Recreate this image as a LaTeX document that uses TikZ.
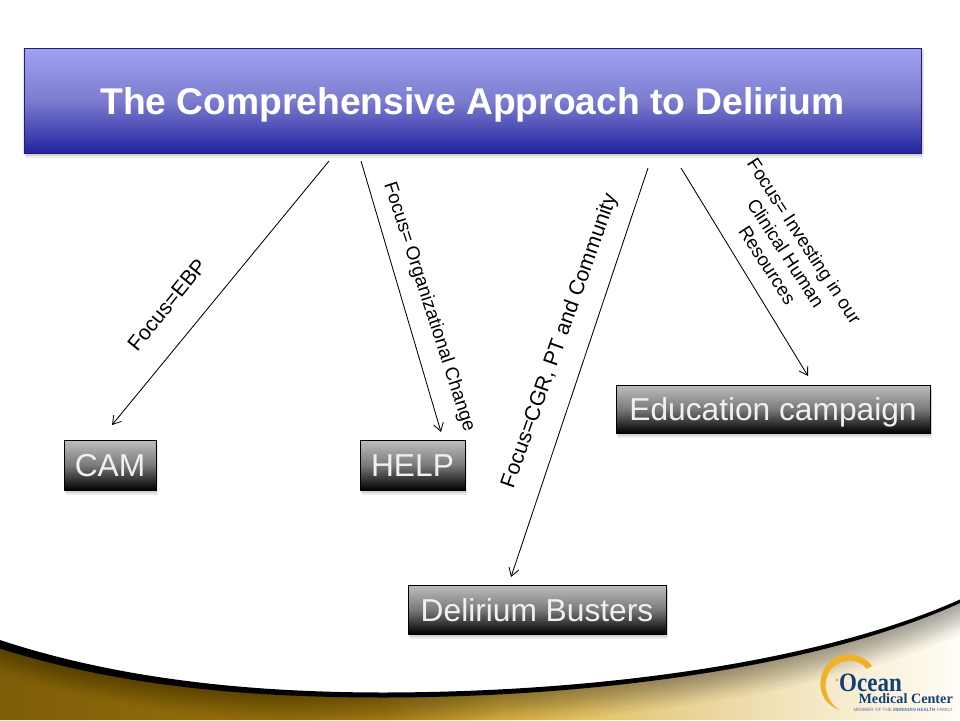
\documentclass[tikz,border=0pt]{standalone}
\usepackage{fontspec}
\setmainfont{Liberation Sans}
\newfontfamily\logofont{Liberation Serif}
\usetikzlibrary{shadows,arrows.meta,positioning}
\definecolor{swA}{HTML}{7E5E08}
\definecolor{swB}{HTML}{96700E}
\definecolor{swC}{HTML}{AC8414}
\definecolor{swD}{HTML}{D6B040}
\definecolor{swE}{HTML}{E2C060}
\definecolor{swF}{HTML}{E8D090}
\definecolor{swG}{HTML}{F4E8C6}
\definecolor{swH}{HTML}{FFFDF6}
\pgfdeclarehorizontalshading{swooshfill}{100bp}{
 color(0bp)=(swA); color(25bp)=(swA); color(40bp)=(swB); color(45bp)=(swC); color(51bp)=(swD); color(55bp)=(swE); color(60bp)=(swF); color(67.5bp)=(swG); color(75bp)=(swH); color(100bp)=(swH)}
\definecolor{logoblue}{HTML}{123F78}
\definecolor{logogold}{HTML}{F0B028}
\definecolor{titletop}{HTML}{A2A2F0}
\definecolor{titlemid}{HTML}{7C7CD0}
\definecolor{titlebot}{HTML}{2424A0}
\definecolor{boxtop}{HTML}{BEBEBE}
\definecolor{boxmid}{HTML}{7A7A7A}
\tikzset{
 softshadow/.style={
  general shadow={fill=black,opacity=.10,shadow xshift=1pt,shadow yshift=-1pt,shadow scale=1.004},
  general shadow={fill=black,opacity=.10,shadow xshift=1pt,shadow yshift=-3pt},
  general shadow={fill=black,opacity=.08,shadow xshift=2pt,shadow yshift=-5pt}},
 titlebox/.style={softshadow,rectangle,inner sep=0pt,top color=titletop,bottom color=titlebot,middle color=titlemid,draw=titlebot!80!black,line width=.4pt,text=white,text height=35pt,text depth=8pt,font=\bfseries\fontsize{37.2}{40}\selectfont},
 termbox/.style={softshadow,rectangle,inner sep=0pt,top color=boxtop,bottom color=black,middle color=boxmid,draw=black,line width=1pt,text=white!94!black,text height=26pt,text depth=3pt,font=\fontsize{31.7}{36}\selectfont},
 link/.style={line width=.85pt,black,-{Straight Barb[length=8pt,width=10pt,line width=.85pt]}},
 focus/.style={inner sep=0pt,align=center,text=black},
}
\begin{document}
\begin{tikzpicture}[x=1pt,y=-1pt]
\useasboundingbox (0,0) rectangle (960,720);
\fill[white] (0,0) rectangle (960,720);
% bottom swoosh
\begin{scope}
 \clip (0,641) .. controls (130,685) and (270,695) .. (385,695) .. controls (600,695) and (820,665) .. (960,601) -- (960,720) -- (0,720) -- cycle;
 \shade[shading=swooshfill] (0,590) rectangle (960,720);
 \foreach \w in {6,10,14,18,22,26,30,34,38,42,46,50,56,62}{
  \draw[black,opacity=.028,line width=\w pt] (0,641) .. controls (130,685) and (270,695) .. (385,695) .. controls (600,695) and (820,665) .. (960,601);
 }
\end{scope}
\fill[black] (0,640) .. controls (130,683) and (270,692.5) .. (385,692.5) .. controls (600,692) and (820,662) .. (960,599.5) -- (960,603) .. controls (820,666.5) and (600,697) .. (385,697.5) .. controls (270,697.5) and (130,690) .. (0,648.5) -- cycle;
% title
\node[titlebox,minimum width=897pt,minimum height=105pt] (title) at (472.5,100.5) {The Comprehensive Approach to Delirium};
% terminal boxes
\node[termbox,minimum width=92pt,minimum height=50pt] (cam) at (110,465) {CAM};
\node[termbox,minimum width=105pt,minimum height=50pt] (help) at (412.5,465) {HELP};
\node[termbox,minimum width=258pt,minimum height=49pt] (busters) at (537,609.5) {Delirium Busters};
\node[termbox,minimum width=314pt,minimum height=48pt] (edu) at (773,409) {Education campaign};
% connector ends
\coordinate (s1) at (329,161); \coordinate (e1) at (112,425);
\coordinate (s2) at (361,161); \coordinate (e2) at (441,432);
\coordinate (s3) at (648,168); \coordinate (e3) at (511,577);
\coordinate (s4) at (681,168); \coordinate (e4) at (808,376);
\draw[link] (s1) -- (e1);
\draw[link] (s2) -- (e2);
\draw[link] (s3) -- (e3);
\draw[link] (s4) -- (e4);
% labels
\node[focus,rotate=51,font=\fontsize{21}{24}\selectfont] (l1) at (167,305) {Focus=EBP};
\node[focus,rotate=-72,font=\fontsize{18.9}{22}\selectfont] (l2) at (429,307) {Focus= Organizational Change};
\node[focus,rotate=70.5,font=\fontsize{21.2}{24}\selectfont] (l3) at (560,341) {Focus=CGR, PT and Community};
\node[focus,rotate=-57,font=\fontsize{18.6}{22}\selectfont] (l4) at (786,253) {Focus= Investing in our\\Clinical Human\\Resources};
% logo
\fill[logogold] (872,666) .. controls (862,652) and (838,650) .. (828,664) .. controls (814,680) and (820,704) .. (840,710) .. controls (826,702) and (820,682) .. (832,668) .. controls (842,658) and (858,658) .. (867,669) -- cycle;
\fill[logogold] (837,680) circle (1.6pt);
\node[inner sep=0pt,text=logoblue,font=\logofont\bfseries\fontsize{23}{28}\selectfont,anchor=base west] (logoA) at (839,691.5) {\scalebox{1}[1.15]{Ocean}};
\node[inner sep=0pt,text=logoblue,font=\logofont\bfseries\fontsize{14.2}{15}\selectfont,anchor=base east] (logoB) at (953,703) {Medical Center};
\node[inner sep=0pt,text=logoblue!70,font=\fontsize{4.6}{5}\selectfont,anchor=base east] (logoC) at (953,711) {MEMBER OF THE \textbf{MERIDIAN HEALTH} FAMILY};
\end{tikzpicture}
\end{document}
